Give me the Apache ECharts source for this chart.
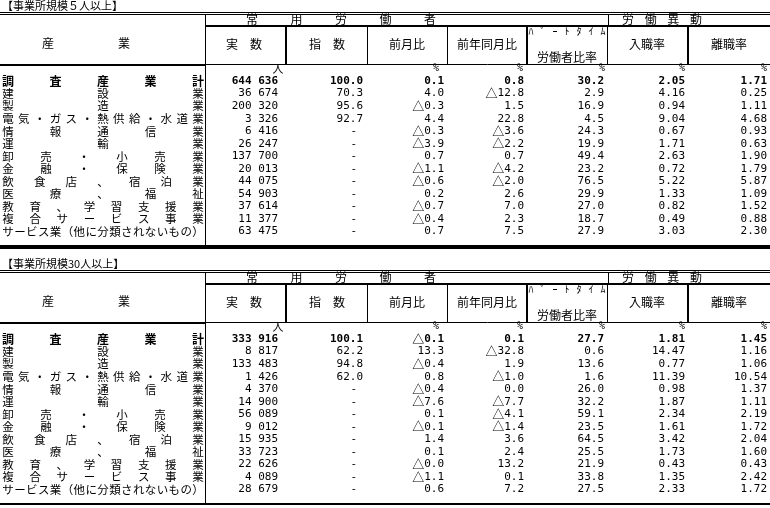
<!DOCTYPE html>
<html>
<head>
<meta charset="utf-8">
<script src="https://cdn.jsdelivr.net/npm/echarts@6/dist/echarts.min.js"></script>
<style>
  html, body { margin: 0; padding: 0; background: #fff; }
  #chart { width: 770px; height: 508px; }
</style>
</head>
<body>
<div id="chart"></div>
<script>
// 産業
const industries = [
  '調査産業計', '建設業', '製造業', '電気・ガス・熱供給・水道業', '情報通信業', '運輸業',
  '卸売・小売業', '金融・保険業', '飲食店、宿泊業', '医療、福祉', '教育、学習支援業',
  '複合サービス事業', 'サービス業（他に分類されないもの）'
];

// 事業所規模５人以上
const actual5 = [644636, 36674, 200320, 3326, 6416, 26247, 137700, 20013, 44075, 54903, 37614, 11377, 63475];
const index5 = [100.0, 70.3, 95.6, 92.7, null, null, null, null, null, null, null, null, null];
const mom5 = [0.1, 4.0, -0.3, 4.4, -0.3, -3.9, 0.7, -1.1, -0.6, 0.2, -0.7, -0.4, 0.7];
const yoy5 = [0.8, -12.8, 1.5, 22.8, -3.6, -2.2, 0.7, -4.2, -2.0, 2.6, 7.0, 2.3, 7.5];
const part5 = [30.2, 2.9, 16.9, 4.5, 24.3, 19.9, 49.4, 23.2, 76.5, 29.9, 27.0, 18.7, 27.9];
const hire5 = [2.05, 4.16, 0.94, 9.04, 0.67, 1.71, 2.63, 0.72, 5.22, 1.33, 0.82, 0.49, 3.03];
const sep5 = [1.71, 0.25, 1.11, 4.68, 0.93, 0.63, 1.90, 1.79, 5.87, 1.09, 1.52, 0.88, 2.30];

// 事業所規模30人以上
const actual30 = [333916, 8817, 133483, 1426, 4370, 14900, 56089, 9012, 15935, 33723, 22626, 4089, 28679];
const index30 = [100.1, 62.2, 94.8, 62.0, null, null, null, null, null, null, null, null, null];
const mom30 = [-0.1, 13.3, -0.4, 0.8, -0.4, -7.6, 0.1, -0.1, 1.4, 0.1, -0, -1.1, 0.6];
const yoy30 = [0.1, -32.8, 1.9, -1.0, 0.0, -7.7, -4.1, -1.4, 3.6, 2.4, 13.2, 0.1, 7.2];
const part30 = [27.7, 0.6, 13.6, 1.6, 26.0, 32.2, 59.1, 23.5, 64.5, 25.5, 21.9, 33.8, 27.5];
const hire30 = [1.81, 14.47, 0.77, 11.39, 0.98, 1.87, 2.34, 1.61, 3.42, 1.73, 0.43, 1.35, 2.33];
const sep30 = [1.45, 1.16, 1.06, 10.54, 1.37, 1.11, 2.19, 1.72, 2.04, 1.60, 0.43, 2.42, 1.72];

const sectionTitles = ['【事業所規模５人以上】', '【事業所規模30人以上】'];

const JP = '"Noto Sans CJK JP", sans-serif';
const NUM = '"DejaVu Sans Mono", monospace';
const W = 770;
const SECTION_GAP = 258;
const ROW_TOP = 81;
const ROW_H = 12.55;
const LABEL_L = 8;
const LABEL_R = 198;

const sections = [
  { offset: 0, cols: [actual5, index5, mom5, yoy5, part5, hire5, sep5], bottom: 4 },
  { offset: SECTION_GAP, cols: [actual30, index30, mom30, yoy30, part30, hire30, sep30], bottom: 2 }
];

const fmtCount = v => String(v).replace(/\B(?=(\d{3})+(?!\d))/g, ' ');
const fmtFixed = d => v => v == null ? '-' : v.toFixed(d);
const fmtSigned = d => v => {
  const neg = v < 0 || Object.is(v, -0);
  return (neg ? '{t|△}' : '') + Math.abs(v).toFixed(d);
};

// column right edges and formatters
const columns = [
  { right: 278, fmt: fmtCount },
  { right: 363, fmt: fmtFixed(1), dashRight: 357 },
  { right: 444, fmt: fmtSigned(1) },
  { right: 524, fmt: fmtSigned(1) },
  { right: 604, fmt: fmtFixed(1) },
  { right: 685, fmt: fmtFixed(2) },
  { right: 767, fmt: fmtFixed(2) }
];

function spread(text, x0, x1, y, font) {
  const chars = Array.from(text);
  return chars.map((c, k) => ({
    type: 'text',
    style: {
      text: c, x: x0 + k * (x1 - x0) / Math.max(chars.length - 1, 1), y: y,
      align: 'center', verticalAlign: 'middle', font: font, fill: '#000'
    }
  }));
}

function label(text, x, y, align, font) {
  return {
    type: 'text',
    style: { text: text, x: x, y: y, align: align, verticalAlign: 'middle', font: font || '12px ' + JP, fill: '#000' }
  };
}

function line(x1, y1, x2, y2, w) {
  return { type: 'line', shape: { x1, y1, x2, y2 }, style: { stroke: '#000', lineWidth: w || 1 } };
}

function frame(sec, si) {
  const o = sec.offset;
  const els = [];
  els.push(label(sectionTitles[si], 2, o + 6, 'left', '11px ' + JP));
  // 罫線
  els.push(line(0, o + 12.5, W, o + 12.5));
  els.push(line(0, o + 14.5, W, o + 14.5));
  els.push(line(205.5, o + 15, 205.5, o + 245));
  els.push(line(205, o + 26, W, o + 26, 2));
  els.push(line(608.5, o + 15, 608.5, o + 26));
  [[286, 2], [367.5, 1], [447.5, 1], [527, 2], [607.5, 1], [688, 2]].forEach(v => {
    els.push(line(v[0], o + 27, v[0], o + 64.5, v[1]));
  });
  els.push(line(0, o + 65, 205, o + 65, 2));
  els.push(line(205, o + 64.5, W, o + 64.5));
  const bw = sec.bottom;
  els.push(line(0, o + 245 + bw / 2, W, o + 245 + bw / 2, bw));
  // 見出し
  els.push(label('産', 48, o + 43, 'center'));
  els.push(label('業', 124, o + 43, 'center'));
  els.push(...spread('常用労働者', 252, 430, o + 19.5, '12px ' + JP));
  els.push(...spread('労働異動', 628, 696, o + 19.5, '12px ' + JP));
  els.push(label('実　数', 244, o + 44, 'center'));
  els.push(label('指　数', 327, o + 44, 'center'));
  els.push(label('前月比', 407, o + 44, 'center'));
  els.push(label('前年同月比', 487, o + 44, 'center'));
  els.push(...spread('ﾊﾟｰﾄﾀｲﾑ', 531, 603, o + 31, '10px ' + JP));
  els.push(label('労働者比率', 567, o + 57, 'center'));
  els.push(label('入職率', 647, o + 44, 'center'));
  els.push(label('離職率', 729, o + 44, 'center'));
  // 単位
  els.push(label('人', 278, o + 69, 'center', '11px ' + JP));
  [439, 523, 605, 685, 767].forEach(x => els.push(label('%', x, o + 68.5, 'right', '10px ' + NUM)));
  return els;
}

const rows = [];
sections.forEach((s, si) => industries.forEach((_, ri) => rows.push([si, ri])));

const chart = echarts.init(document.getElementById('chart'));
chart.setOption({
  animation: false,
  backgroundColor: '#fff',
  grid: { left: 0, right: 0, top: 0, bottom: 0 },
  xAxis: { type: 'value', min: 0, max: W, show: false },
  yAxis: { type: 'value', min: 0, max: 508, inverse: true, show: false },
  graphic: { elements: sections.flatMap(frame) },
  series: [{
    type: 'custom',
    silent: true,
    data: rows,
    renderItem: (params, api) => {
      const si = api.value(0);
      const ri = api.value(1);
      const sec = sections[si];
      const yv = sec.offset + ROW_TOP + ri * ROW_H;
      const bold = ri === 0;
      const children = [];
      const chars = Array.from(industries[ri]);
      chars.forEach((c, k) => {
        const p = api.coord([LABEL_L + k * (LABEL_R - LABEL_L) / (chars.length - 1), yv]);
        children.push({
          type: 'text',
          style: {
            text: c, x: p[0], y: p[1], align: 'center', verticalAlign: 'middle',
            font: (bold ? 'bold 12px ' : '11.5px ') + JP, fill: '#000'
          }
        });
      });
      columns.forEach((col, ci) => {
        const v = sec.cols[ci][ri];
        const right = v == null && col.dashRight ? col.dashRight : col.right;
        const p = api.coord([right, yv]);
        children.push({
          type: 'text',
          style: {
            text: col.fmt(v), x: p[0], y: p[1], align: 'right', verticalAlign: 'middle',
            fontFamily: NUM, fontSize: 11, fontWeight: bold ? 'bold' : 'normal', fill: '#000',
            rich: { t: { fontFamily: JP, fontSize: 12, fontWeight: bold ? 'bold' : 'normal' } }
          }
        });
      });
      return { type: 'group', children: children };
    }
  }]
});
</script>
</body>
</html>
